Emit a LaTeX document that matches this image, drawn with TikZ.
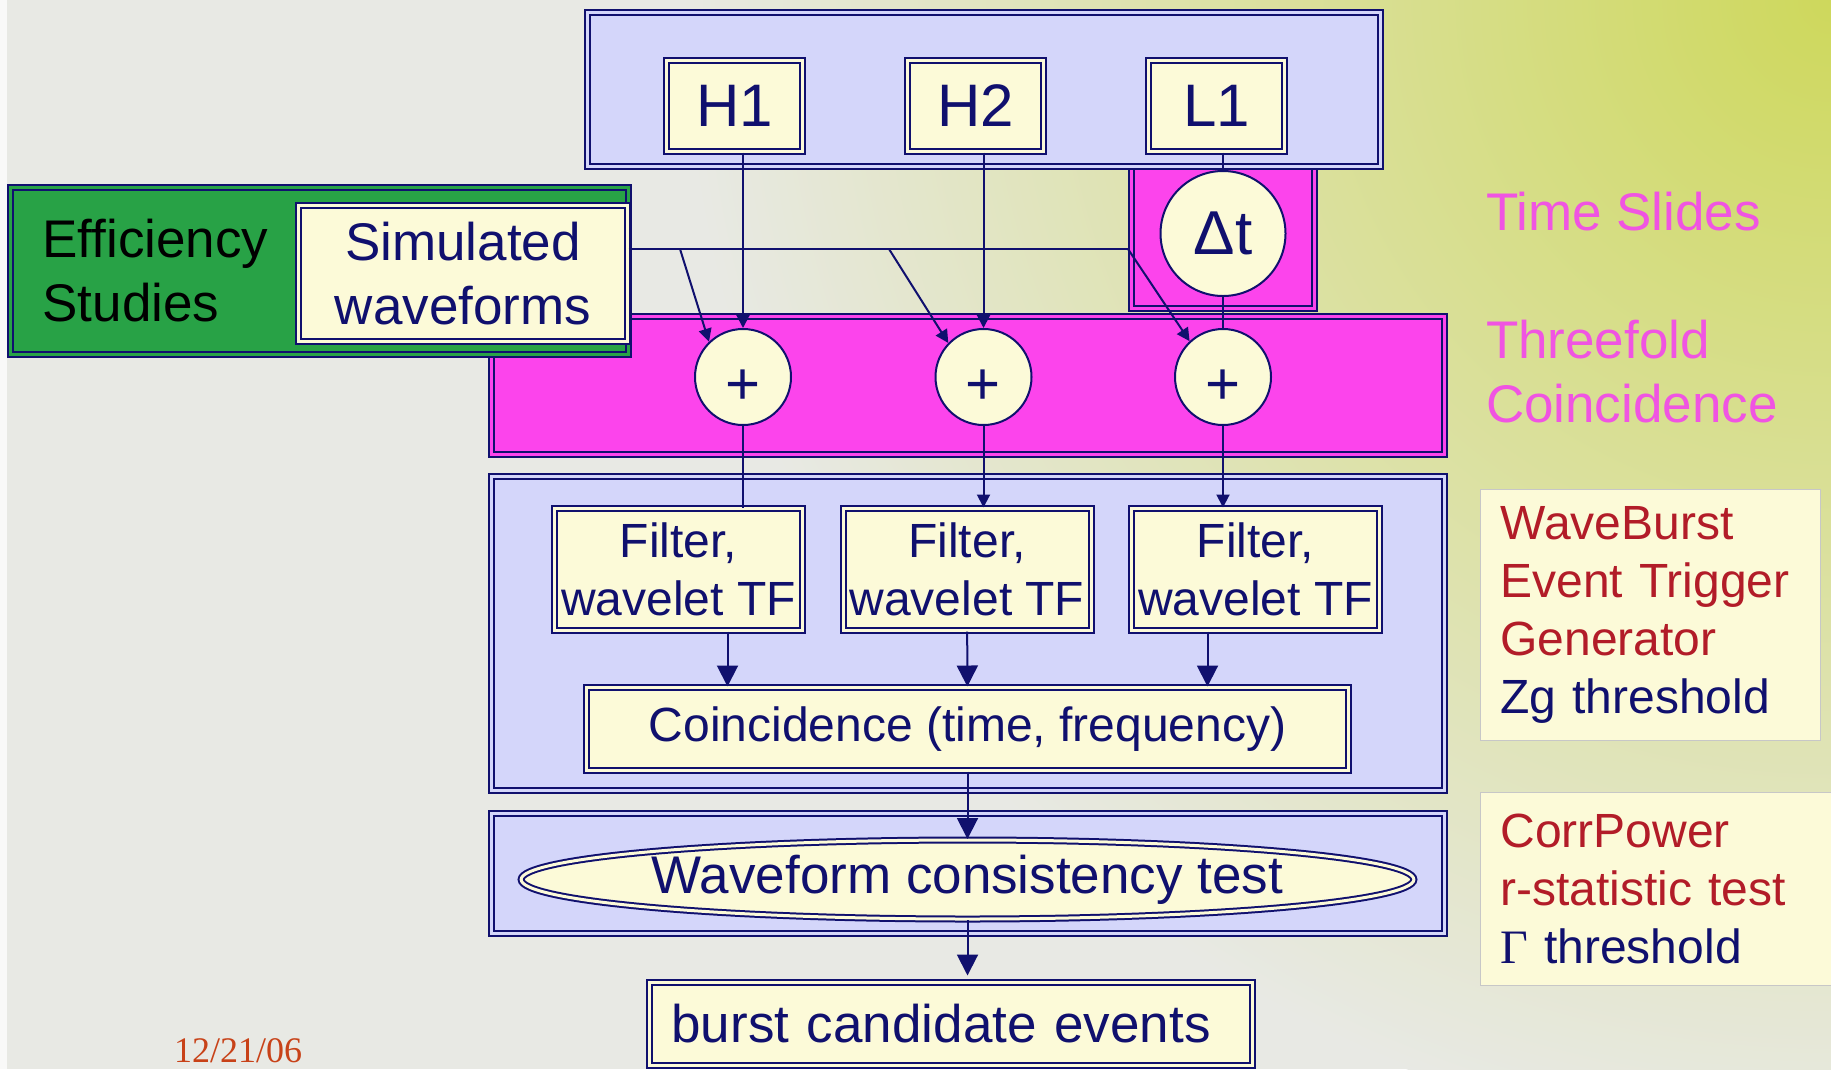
\documentclass[tikz,border=0pt]{standalone}
\usepackage{fontspec}
\setmainfont{Liberation Sans}
\newfontfamily\datefont{Liberation Serif}
\usetikzlibrary{positioning,arrows.meta,shapes}
\usepackage{xcolor}

\definecolor{navy}{RGB}{16,16,110}
\definecolor{lavender}{RGB}{212,214,250}
\definecolor{cream}{RGB}{252,250,216}
\definecolor{hotpink}{RGB}{252,68,236}
\definecolor{leafgreen}{RGB}{40,162,70}
\definecolor{slidepink}{RGB}{240,84,226}
\definecolor{notered}{RGB}{178,28,40}
\definecolor{datered}{RGB}{200,66,24}
\definecolor{bggray}{RGB}{232,233,228}
\definecolor{bglime}{RGB}{206,216,92}

\begin{document}
\begin{tikzpicture}[
    x = 1pt, y = -1pt,
    > = {Triangle[length=13pt, width=13pt]},
    line width = 2pt,
    color = navy,
    node distance = 241pt,
    every node/.style = {inner sep=0pt},
    frame/.style = {rectangle, draw=navy, double=#1, double distance=3pt, fill=#1},
    detbox/.style = {frame=cream, minimum width=136pt, minimum height=91pt,
        font=\fontsize{60}{72}\selectfont},
    sumnode/.style = {circle, draw=navy, fill=cream, minimum size=96pt,
        font=\fontsize{60}{72}\selectfont},
    stagebox/.style = {frame=cream, align=center, font=\fontsize{48}{58}\selectfont},
    bigfont/.style = {font=\fontsize{53}{64}\selectfont},
    sidelabel/.style = {bigfont, text=slidepink, align=left, anchor=north west},
    notebox/.style = {rectangle, fill=cream, draw=black!22, line width=1pt,
        anchor=north west, align=left, inner xsep=20pt, text=notered,
        font=\fontsize{48}{58}\selectfont},
    arrL/.style = {-{Triangle[length=21pt, width=21pt]}}
]
    \useasboundingbox (0,0) rectangle (1831,1069);
    \clip (0,0) rectangle (1831,1069);

    % background
    \fill[bggray] (0,0) rectangle (1831,1069);
    \shade[inner color=bglime, outer color=bggray] (1831,0) circle (1150pt);
    \fill[white!75!bggray] (0,0) rectangle (7,1069);

    % detectors and time slides
    \node[frame=hotpink, minimum width=183pt, minimum height=148.5pt] (slideBox) at (1223,234.25) {};
    \node[frame=lavender, minimum width=793pt, minimum height=154pt] (detArea) at (984,89.5) {};
    \node[detbox] (H1) at (734.5,106) {H1};
    \node[detbox, right of=H1] (H2) {H2};
    \node[detbox, right of=H2] (L1) {L1};

    % threefold coincidence and injections
    \node[frame=hotpink, minimum width=953pt, minimum height=138pt] (threeBox) at (968,385.5) {};
    \node[frame=leafgreen, minimum width=618pt, minimum height=167pt, text width=554pt,
        inner xsep=32pt, align=left, bigfont, text=black] (effBox) at (319.5,271) {Efficiency\\Studies};
    \node[frame=cream, minimum width=329pt, minimum height=136pt, align=center, bigfont] (sim) at (463,273.5) {Simulated\\waveforms};

    % event trigger generator
    \node[frame=lavender, minimum width=953pt, minimum height=314pt] (etgBox) at (968,633.5) {};
    \node[stagebox, minimum width=248pt, minimum height=122pt] (filtA) at (678.5,569.5) {Filter,\\wavelet TF};
    \node[stagebox, minimum width=248pt, minimum height=122pt, right of=filtA, node distance=288.5pt] (filtB) {Filter,\\wavelet TF};
    \node[stagebox, minimum width=248pt, minimum height=122pt, right of=filtB, node distance=288.5pt] (filtC) {Filter,\\wavelet TF};
    \node[stagebox, minimum width=762pt, minimum height=83pt] (coinc) at (967.5,729) {Coincidence (time, frequency)};

    % consistency test and output
    \node[frame=lavender, minimum width=953pt, minimum height=120.5pt] (wfBox) at (968,873.25) {};
    \node[ellipse, draw=navy, double=cream, double distance=3pt, fill=cream,
        minimum width=890pt, minimum height=79pt, bigfont] (wave) at (967.5,879.5) {Waveform consistency test};
    \node[frame=cream, minimum width=603pt, minimum height=83pt, text width=559pt,
        inner xsep=22pt, align=left, bigfont] (burst) at (951,1024) {burst candidate events};

    \node[sumnode, text height=54pt, text depth=0pt] (plusA) at (743,377) {+};
    \node[sumnode, text height=54pt, text depth=0pt, right of=plusA, node distance=240.5pt] (plusB) {+};
    \node[sumnode, text height=54pt, text depth=0pt, right of=plusB, node distance=239.5pt] (plusC) {+};
    \node[sumnode, minimum size=125pt, font=\fontsize{62}{74}\selectfont] (dt) at (1223,233.5) {Δt};

    % connectors
    \coordinate (jA) at (680,249);
    \coordinate (jB) at (889,249);
    \coordinate (jC) at (1128,249);
    \draw (sim.east |- jA) -- (jC);
    \path[->]
        (jA) edge (plusA.134)
        (jB) edge (plusB.136)
        (jC) edge (plusC.133)
        (H1.south -| plusA) edge (plusA)
        (H2.south -| plusB) edge (plusB)
        (plusB) edge (plusB |- filtB.north)
        (plusC) edge (plusC |- filtC.north);
    \path
        (L1.south -| dt) edge (dt)
        (dt) edge (plusC)
        (plusA) edge (plusA |- filtA.north);
    \coordinate (cA) at ([xshift=-240pt]coinc.north);
    \coordinate (cC) at ([xshift=240pt]coinc.north);
    \path[arrL]
        (cA |- filtA.south) edge (cA)
        (filtB) edge (coinc)
        (cC |- filtC.south) edge (cC)
        (coinc) edge (wave)
        (wave) edge[shorten >=6pt] (wave.south |- burst.north);

    % labels and notes
    \node[sidelabel] (slideLbl) at (1485,191.5) {Time Slides};
    \node[sidelabel] (threeLbl) at (1485,319) {Threefold\\Coincidence};
    \node[notebox, minimum width=340pt, minimum height=251pt, text width=300pt] (etgNote) at (1480,489)
        {WaveBurst\\Event Trigger\\Generator\\{\color{navy}Zg threshold}};
    \node[notebox, minimum width=360pt, minimum height=193pt, text width=320pt] (cpNote) at (1480,792)
        {CorrPower\\r-statistic test\\{\color{navy}{\datefont Γ} threshold}};
    \node[anchor=base west, text=datered, font=\datefont\fontsize{36}{43}\selectfont] (date) at (173,1062) {12/21/06};
\end{tikzpicture}
\end{document}
